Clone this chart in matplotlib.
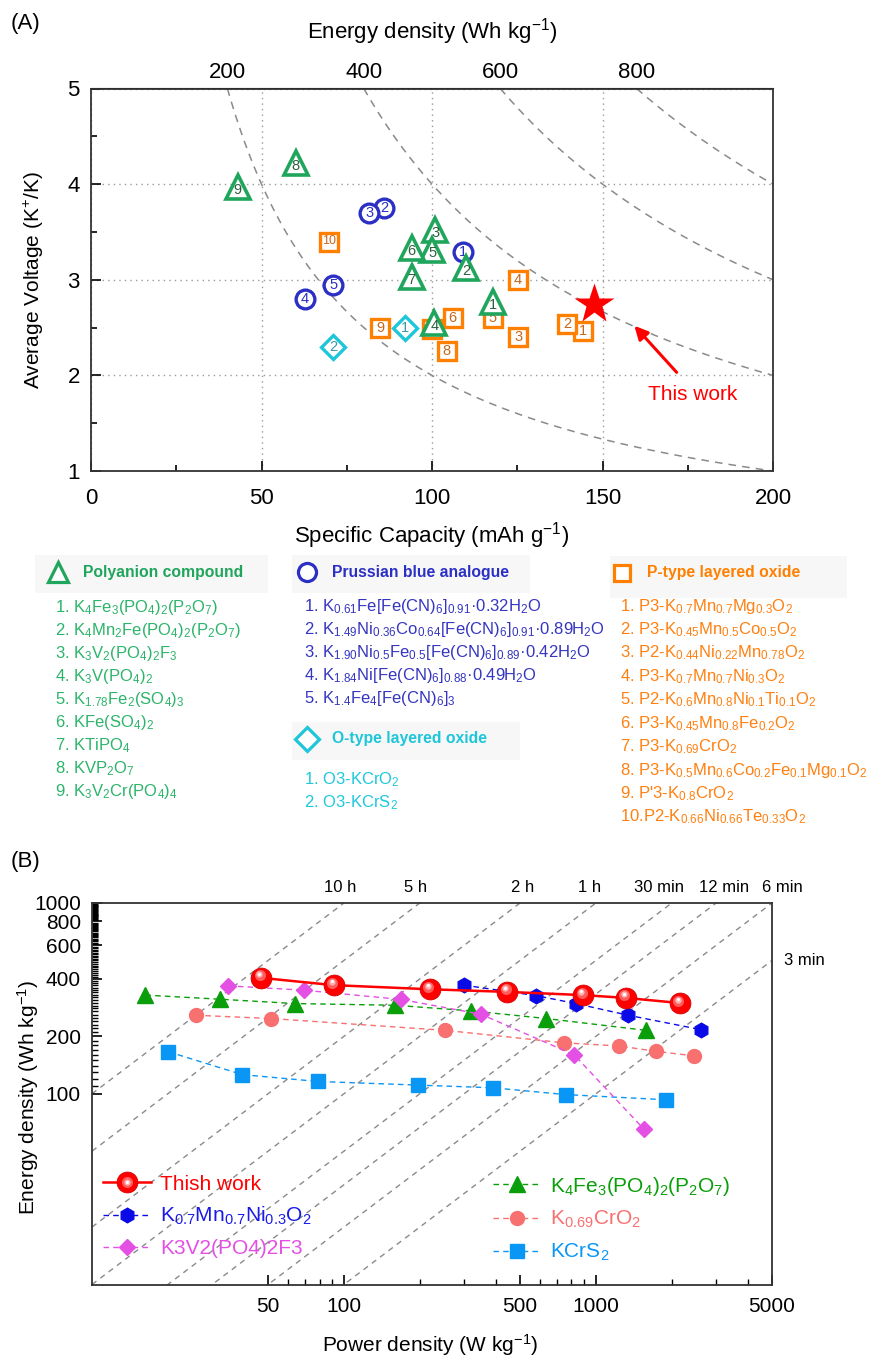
import re
import numpy as np
import matplotlib
matplotlib.use('Agg')
import matplotlib.pyplot as plt
from matplotlib import font_manager
from matplotlib.lines import Line2D
from matplotlib.patches import Rectangle
from matplotlib.transforms import Affine2D, offset_copy
from matplotlib.ticker import NullFormatter
from matplotlib.legend_handler import HandlerTuple

names = {f.name for f in font_manager.fontManager.ttflist}
NARROW = 'Liberation Sans Narrow' if 'Liberation Sans Narrow' in names else 'Liberation Sans'

plt.rcParams['font.family'] = 'Liberation Sans'
plt.rcParams['mathtext.fontset'] = 'custom'
plt.rcParams['mathtext.rm'] = 'Liberation Sans'
plt.rcParams['mathtext.it'] = 'Liberation Sans:italic'
plt.rcParams['mathtext.bf'] = 'Liberation Sans:bold'

# ---------------- data: panel A ----------------
poly_cap = [118, 110, 101, 100.7, 100.1, 94, 94, 60, 43]
poly_volt = [2.77, 3.12, 3.52, 2.55, 3.31, 3.33, 3.03, 4.22, 3.97]
pba_cap = [109, 86, 81.6, 62.8, 71]
pba_volt = [3.29, 3.75, 3.70, 2.80, 2.95]
otype_cap = [92, 71]
otype_volt = [2.50, 2.30]
ptype_cap = [144.3, 139.7, 125.3, 125.2, 117.8, 106.1, 100, 104.3, 84.8, 69.9]
ptype_volt = [2.46, 2.54, 2.40, 3.00, 2.60, 2.60, 2.49, 2.25, 2.50, 3.40]
this_cap = [147.5]
this_volt = [2.75]
iso_energy = [200, 400, 600, 800]
energy_ticks = [200, 400, 600, 800]

poly_names = ['K_{4}Fe_{3}(PO_{4})_{2}(P_{2}O_{7})', 'K_{4}Mn_{2}Fe(PO_{4})_{2}(P_{2}O_{7})',
              'K_{3}V_{2}(PO_{4})_{2}F_{3}', 'K_{3}V(PO_{4})_{2}', 'K_{1.78}Fe_{2}(SO_{4})_{3}',
              'KFe(SO_{4})_{2}', 'KTiPO_{4}', 'KVP_{2}O_{7}', 'K_{3}V_{2}Cr(PO_{4})_{4}']
pba_names = ['K_{0.61}Fe[Fe(CN)_{6}]_{0.91}·0.32H_{2}O',
             'K_{1.49}Ni_{0.36}Co_{0.64}[Fe(CN)_{6}]_{0.91}·0.89H_{2}O',
             'K_{1.90}Ni_{0.5}Fe_{0.5}[Fe(CN)_{6}]_{0.89}·0.42H_{2}O',
             'K_{1.84}Ni[Fe(CN)_{6}]_{0.88}·0.49H_{2}O',
             'K_{1.4}Fe_{4}[Fe(CN)_{6}]_{3}']
otype_names = ['O3-KCrO_{2}', 'O3-KCrS_{2}']
ptype_names = ['P3-K_{0.7}Mn_{0.7}Mg_{0.3}O_{2}', 'P3-K_{0.45}Mn_{0.5}Co_{0.5}O_{2}',
               'P2-K_{0.44}Ni_{0.22}Mn_{0.78}O_{2}', 'P3-K_{0.7}Mn_{0.7}Ni_{0.3}O_{2}',
               'P2-K_{0.6}Mn_{0.8}Ni_{0.1}Ti_{0.1}O_{2}', 'P3-K_{0.45}Mn_{0.8}Fe_{0.2}O_{2}',
               'P3-K_{0.69}CrO_{2}', 'P3-K_{0.5}Mn_{0.6}Co_{0.2}Fe_{0.1}Mg_{0.1}O_{2}',
               "P'3-K_{0.8}CrO_{2}", 'P2-K_{0.66}Ni_{0.66}Te_{0.33}O_{2}']

# ---------------- data: panel B ----------------
tw_p = [47, 91, 219, 445, 891, 1315, 2154]
tw_e = [405, 371, 353, 342, 329, 318, 299]
kmn_p = [299, 578, 833, 1343, 2603]
kmn_e = [371, 327, 297, 258, 217]
kvpf_p = [34.7, 69.4, 169, 350, 820, 1555]
kvpf_e = [368, 349, 312, 261, 160, 65]
kfp_p = [16.3, 32.2, 64, 159, 319, 634, 1578]
kfp_e = [329, 313, 297, 291, 272, 248, 215]
kcro_p = [25.8, 51.2, 252, 747, 1237, 1725, 2442]
kcro_e = [258, 248, 215, 185, 178, 167, 158]
kcrs_p = [20.1, 39.5, 78.6, 197, 389, 758, 1897]
kcrs_e = [166, 126, 116, 111, 107.5, 99, 93]
time_h = [10, 5, 2, 1, 0.5, 1/3, 0.2, 0.1]
time_labels = ['10 h', '5 h', '2 h', '1 h', '30 min', '12 min', '6 min']
time_label_p = [97, 192, 512, 944, 1775, 3220, 5495]


def chem(s):
    return re.sub(r'_\{([^}]*)\}', lambda m: r'$_{\mathregular{%s}}$' % m.group(1), s)


W, H = 872, 1363
fig = plt.figure(figsize=(W / 100, H / 100), dpi=100)
pix = Affine2D().scale(1 / W, -1 / H).translate(0, 1) + fig.transFigure

GREEN, BLUE, CYAN, ORANGE = '#1FA55C', '#2B2FC4', '#1DC6D9', '#FF8000'

# ================= panel A =================
axA = fig.add_axes([91 / W, 1 - 471 / H, 682 / W, 382.5 / H])
for e in iso_energy:
    c = np.linspace(e / 5, 200, 300)
    axA.plot(c, e / c, color='#8a8a8a', lw=1.1, dashes=(5, 4), zorder=1)
axA.set_xlim(0, 200)
axA.set_ylim(1, 5)
axA.set_xticks([0, 50, 100, 150, 200])
axA.set_xticks([25, 75, 125, 175], minor=True)
axA.set_yticks([1, 2, 3, 4, 5])
axA.set_yticks([1.5, 2.5, 3.5, 4.5], minor=True)
axA.grid(True, which='major', color='#9a9a9a', lw=1, linestyle=(0, (1, 3)), zorder=0)
axA.tick_params(which='both', direction='in', labelsize=16, labelfontfamily=NARROW)
axA.tick_params(axis='x', which='both', pad=12)
axA.tick_params(axis='y', which='both', pad=8)
axA.tick_params(which='major', length=7, width=1.2)
axA.tick_params(which='minor', length=4, width=1.2)
for sp in axA.spines.values():
    sp.set_linewidth(1.3)
    sp.set_color('#333333')

sec = axA.secondary_xaxis('top', functions=(lambda c: c * 5, lambda e: e / 5))
sec.set_xticks(energy_ticks)
sec.tick_params(length=0, pad=4, labelsize=16, labelfontfamily=NARROW)
sec.set_xlabel('Energy density (Wh kg$^{\\mathregular{-1}}$)', fontsize=16, family=NARROW, labelpad=17)

axA.set_xlabel('Specific Capacity (mAh g$^{\\mathregular{-1}}$)', fontsize=16, family=NARROW)
axA.xaxis.set_label_coords(0.5, -0.168)
axA.xaxis.label.set_va('center')
axA.set_ylabel('Average Voltage (K$^{\\mathregular{+}}$/K)', fontsize=15)
axA.yaxis.set_label_coords(-0.083, 0.5)
axA.yaxis.label.set_va('center')


def draw_group(caps, volts, marker, ms, color, numcolor, z0, dy=0.0, mew=2.4, fs=10.5):
    for i, (c, v) in enumerate(zip(caps, volts)):
        z = z0 + i * 0.02
        axA.plot([c], [v], marker=marker, ms=ms, mfc='white', mec=color, mew=mew,
                 ls='none', zorder=z)
        lab = str(i + 1)
        axA.annotate(lab, (c, v), xytext=(0, dy), textcoords='offset points',
                     ha='center', va='center', fontsize=fs - 1.5 if len(lab) > 1 else fs,
                     color=numcolor, zorder=z + 0.01)


draw_group(ptype_cap, ptype_volt, 's', 12.5, ORANGE, '#C8661A', 3)
draw_group(otype_cap, otype_volt, 'D', 12.5, CYAN, '#3A9AAA', 4)
draw_group(pba_cap, pba_volt, 'o', 13.5, BLUE, '#2B2FC4', 5)
draw_group(poly_cap, poly_volt, '^', 17.5, GREEN, '#2F5E3F', 6, dy=-2, mew=2.6)
axA.plot(this_cap, this_volt, marker='*', ms=30, color='#FF0000', mec='none', ls='none', zorder=8)
axA.annotate('', xy=(158.8, 2.54), xytext=(172.3, 2.01),
             arrowprops=dict(arrowstyle='-|>', color='#FF0000', lw=2.2, mutation_scale=20), zorder=8)
axA.text(176.4, 1.80, 'This work', color='#FF0000', fontsize=15, ha='center', va='center')

# ---- legend block of panel A ----
fig.text(25, 24, '(A)', transform=pix, fontsize=16, ha='center', va='center')


def header(x_icon, y, marker, ms, color, text, box):
    fig.add_artist(Rectangle((box[0], box[1]), box[2], box[3], transform=pix,
                             facecolor='#f7f7f7', edgecolor='none', zorder=0))
    fig.add_artist(Line2D([x_icon], [y], marker=marker, ms=ms, mfc='white', mec=color,
                          mew=2.3, transform=pix))
    fig.text(x_icon + 25, y, text, transform=pix, fontsize=11.3, fontweight='bold',
             color=color, ha='left', va='center')


def items(x, y0, step, names_list, color):
    for i, s in enumerate(names_list):
        pre = '%d. ' % (i + 1) if i < 9 else '%d.' % (i + 1)
        fig.text(x, y0 + i * step, pre + chem(s), transform=pix, fontsize=12,
                 color=color, ha='left', va='center_baseline')


header(58, 572, '^', 15, GREEN, 'Polyanion compound', (35, 555, 233, 38))
items(55, 605, 23.0, poly_names, '#2DB46B')
header(307, 572, 'o', 13, BLUE, 'Prussian blue analogue', (292, 555, 238, 38))
items(304, 604, 23.0, pba_names, '#3535C0')
header(307, 739, 'D', 12, CYAN, 'O-type layered oxide', (292, 722, 228, 38))
items(304, 777, 23.0, otype_names, '#1EC8DC')
header(622, 573, 's', 12, ORANGE, 'P-type layered oxide', (610, 556, 237, 42))
items(620, 604, 23.4, ptype_names, '#FF8010')

# ================= panel B =================
axB = fig.add_axes([92 / W, 1 - 1284.5 / H, 680 / W, 381.5 / H])
axB.set_xscale('log')
axB.set_yscale('log')
for t in time_h:
    p = np.array([10.0, 5000.0])
    axB.plot(p, p * t, color='#8a8a8a', lw=1.0, dashes=(4, 3.5), zorder=1)
axB.set_xlim(10, 5000)
axB.set_ylim(10, 1000)

axB.set_xticks([50, 100, 500, 1000, 5000], ['50', '100', '500', '1000', '5000'])
axB.set_xticks([60, 70, 80, 90, 200, 300, 400, 600, 700, 800, 900, 2000, 3000, 4000], minor=True)
axB.xaxis.set_minor_formatter(NullFormatter())
ymaj = [100, 200, 400, 600, 800, 1000]
axB.set_yticks(ymaj, [str(v) for v in ymaj])
axB.set_yticks([v for v in range(110, 1000, 10) if v not in ymaj], minor=True)
axB.yaxis.set_minor_formatter(NullFormatter())
axB.tick_params(which='both', direction='in', labelsize=15)
axB.tick_params(axis='x', which='both', pad=9)
axB.tick_params(axis='y', which='both', pad=8)
axB.tick_params(which='major', length=7, width=1.2)
axB.tick_params(which='minor', length=4, width=1.0)
for sp in axB.spines.values():
    sp.set_linewidth(1.3)
    sp.set_color('#333333')

axB.set_xlabel('Power density (W kg$^{\\mathregular{-1}}$)', fontsize=15)
axB.xaxis.set_label_coords(0.497, -0.158)
axB.xaxis.label.set_va('center')
axB.set_ylabel('Energy density (Wh kg$^{\\mathregular{-1}}$)', fontsize=15)
axB.yaxis.set_label_coords(-0.094, 0.489)
axB.yaxis.label.set_va('center')

for lab, p in zip(time_labels, time_label_p):
    axB.text(p, 1.040, lab, transform=axB.get_xaxis_transform(), fontsize=12,
             ha='center', va='center', clip_on=False)
axB.text(5572, 500, '3 min', fontsize=12, ha='left', va='center', clip_on=False)
fig.text(25, 862, '(B)', transform=pix, fontsize=16, ha='center', va='center')

dash = (4, 3)
l_kfp, = axB.plot(kfp_p, kfp_e, color='#0A9E0A', marker='^', ms=11.5, lw=1, dashes=dash, zorder=4)
l_kcro, = axB.plot(kcro_p, kcro_e, color='#F87070', marker='o', ms=10, lw=1, dashes=dash, zorder=4)
l_kcrs, = axB.plot(kcrs_p, kcrs_e, color='#0A96F5', marker='s', ms=9.5, lw=1, dashes=dash, zorder=4)
l_kvpf, = axB.plot(kvpf_p, kvpf_e, color='#E450E4', marker='D', ms=8.5, lw=1, dashes=dash, zorder=5)
l_kmn, = axB.plot(kmn_p, kmn_e, color='#0A0AE6', marker='h', ms=10.5, lw=1, dashes=dash, zorder=5)

l_tw, = axB.plot(tw_p, tw_e, color='#FF0000', marker='o', ms=15, mfc='#FF0000', mec='#D80000',
                 mew=0.6, lw=1.8, zorder=6)
hl = []
for ms, col, dx, dy in [(8, '#FF5C5C', -1.5, 2.5), (4.5, '#FFB4B4', -2, 3.5), (2.2, 'white', -2, 4)]:
    tr = offset_copy(axB.transData, fig=fig, x=dx, y=dy, units='dots')
    h, = axB.plot(tw_p, tw_e, ls='none', marker='o', ms=ms, color=col, mec='none',
                  transform=tr, zorder=6.5)
    hl.append(h)

leg_kw = dict(fontsize=15, frameon=False, handlelength=2.3, handletextpad=0.45,
              labelspacing=0.55, borderpad=0, borderaxespad=0, loc='upper left')
leg1 = axB.legend([tuple([l_tw] + hl), l_kmn, l_kvpf],
                  ['Thish work', chem('K_{0.7}Mn_{0.7}Ni_{0.3}O_{2}'), 'K3V2(PO4)2F3'],
                  handler_map={tuple: HandlerTuple(ndivide=1, pad=0)},
                  bbox_to_anchor=(0.016, 0.288), **leg_kw)
for txt, c in zip(leg1.get_texts(), ['#FF0000', '#1A1AE6', '#E450E4']):
    txt.set_color(c)
axB.add_artist(leg1)
leg2 = axB.legend([l_kfp, l_kcro, l_kcrs],
                  [chem('K_{4}Fe_{3}(PO_{4})_{2}(P_{2}O_{7})'), chem('K_{0.69}CrO_{2}'), chem('KCrS_{2}')],
                  bbox_to_anchor=(0.590, 0.288), **leg_kw)
for txt, c in zip(leg2.get_texts(), ['#0A9E0A', '#F87070', '#0A96F5']):
    txt.set_color(c)

fig.savefig('out.png', dpi=100)
